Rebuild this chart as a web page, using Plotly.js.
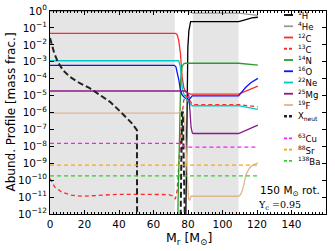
<!DOCTYPE html>
<html><head><meta charset="utf-8">
<script src="https://cdn.plot.ly/plotly-3.0.1.min.js"></script>
<style>html,body{margin:0;padding:0;background:#fff}#c{width:335px;height:251px}</style>
</head><body><div id="c"></div>
<script>
// ---------------- data (mass coordinate in Msun, log10 mass fraction) ----------------
const m_H1   = [0, 78.5, 79, 79.5, 79.9, 80.5, 81, 81.5, 82.5, 109.3, 111, 113, 115, 117, 120.5];
const lg_H1  = [-14, -14, -10, -5, -2.18, -1.18, -0.77, -0.63, -0.63, -0.63, -0.58, -0.52, -0.46, -0.41, -0.37];
const m_He4  = [0, 80, 81, 82, 83, 109.3, 120.5];
const lg_He4 = [-0.009, -0.009, -0.06, -0.12, -0.13, -0.13, -0.26];
const m_C12  = [0, 72.7, 73.7, 74.6, 75.6, 76.6, 77.5, 78.5, 80, 81.5, 109.3, 112, 115, 118, 120.5];
const lg_C12 = [-1.32, -1.32, -1.4, -1.72, -2.5, -3.89, -4.5, -4.78, -4.85, -4.91, -4.91, -4.8, -4.65, -4.52, -4.44];
const m_C13  = [0, 2.7, 6.6, 12.5, 19, 29, 38.7, 50, 68.7, 70.8, 72.7, 73.7, 74.6, 75.6, 76.6, 77.5, 78.5, 80, 81.5, 82.5, 109.3, 120.5];
const lg_C13 = [-9.9, -10.4, -10.69, -10.89, -10.95, -10.89, -10.84, -10.84, -10.85, -10.92, -11.12, -10.6, -9, -7.5, -6.2, -5.3, -5.0, -5.1, -5.4, -5.53, -5.53, -5.66];
const m_N14  = [0, 73.8, 74.3, 74.8, 75.3, 75.8, 76.5, 77.5, 78.5, 109.3, 120.5];
const lg_N14 = [-14, -14, -11, -8, -5.5, -4, -3.3, -3.12, -3.09, -3.09, -3.2];
const m_O16  = [0, 72, 73, 73.7, 74.7, 75.6, 76.5, 77.5, 79, 80.5, 81.5, 82.4, 109.3, 111, 113.5, 116.4, 118.5, 120.5];
const lg_O16 = [-3.21, -3.21, -3.3, -3.59, -4.08, -4.67, -4.95, -5.07, -5.2, -5.27, -5.12, -5.02, -5.02, -4.8, -4.51, -4.24, -4.1, -3.98];
const m_Ne22  = [0, 74.6, 75.6, 76.6, 77.5, 78.5, 80, 82.4, 109.3, 120.5];
const lg_Ne22 = [-2.94, -2.94, -3.3, -4.48, -4.9, -5.07, -5.35, -5.6, -5.6, -5.82];
const m_Mg25  = [0, 78.5, 79.5, 80.5, 81.2, 81.8, 82.5, 83, 109.3, 120.5];
const lg_Mg25 = [-4.73, -4.73, -4.8, -5.0, -6, -6.9, -7.2, -7.24, -7.24, -6.75];
const m_F19  = [0, 74, 75.5, 77, 78, 78.8, 79.5, 80.3, 81, 81.7, 82.5, 109.3, 110.5, 111.5, 112.5, 113.5, 115.5, 117.5, 120.5];
const lg_F19 = [-6.04, -6.04, -5.95, -5.9, -6.3, -8, -10, -11.1, -11.2, -10.95, -10.95, -10.95, -10.85, -10.6, -10.2, -9.7, -9.31, -9.1, -8.98];
const m_Xn  = [0, 1, 2.5, 4.5, 7.5, 11.5, 17, 23, 27, 31, 34.8, 38.7, 43, 47.5, 50.4, 50.5, 75.5, 76, 76.5, 77, 77.5, 78, 78.5, 120.5];
const lg_Xn = [-1.6, -2.0, -2.5, -3.0, -3.5, -3.89, -4.25, -4.56, -4.83, -5.1, -5.37, -5.74, -6.2, -6.64, -7.04, -14, -14, -9, -6, -6, -9, -12, -14, -14];
const m_Cu63  = [0, 76, 78, 120.5];
const lg_Cu63 = [-7.83, -7.83, -8.05, -8.05];
const m_Sr88  = [0, 120.5];
const lg_Sr88 = [-9.11, -9.11];
const m_Ba138  = [0, 120.5];
const lg_Ba138 = [-9.75, -9.75];
// convective zones (Msun)
const convZones = [[0, 72.3], [82.8, 109.3]];
// tick labels
const yTickExp = [0, -1, -2, -3, -4, -5, -6, -7, -8, -9, -10, -11, -12];
const yTickText = yTickExp.map(e => '10<sup>' + (e < 0 ? '\u2212' + (-e) : e) + '</sup>');
const xTickVals = [0, 20, 40, 60, 80, 100, 120, 140, 160];

// ---------------- styles ----------------
const species = [
  {name: '<sup>1</sup>H',    m: m_H1,   lg: lg_H1,   color: '#000000', dash: 'solid', w: 1.3, leg: 0},
  {name: '<sup>4</sup>He',   m: m_He4,  lg: lg_He4,  color: '#999999', dash: 'solid', w: 1.3, leg: 0},
  {name: '<sup>12</sup>C',   m: m_C12,  lg: lg_C12,  color: '#ff2a2a', dash: 'solid', w: 1.3, leg: 0},
  {name: '<sup>13</sup>C',   m: m_C13,  lg: lg_C13,  color: '#ff2a2a', dash: '4px,3px', w: 1.3, leg: 0},
  {name: '<sup>14</sup>N',   m: m_N14,  lg: lg_N14,  color: '#2e9a2e', dash: 'solid', w: 1.3, leg: 0},
  {name: '<sup>16</sup>O',   m: m_O16,  lg: lg_O16,  color: '#1010ff', dash: 'solid', w: 1.3, leg: 0},
  {name: '<sup>22</sup>Ne',  m: m_Ne22, lg: lg_Ne22, color: '#00c8c8', dash: 'solid', w: 1.3, leg: 0},
  {name: '<sup>25</sup>Mg',  m: m_Mg25, lg: lg_Mg25, color: '#8a1a8a', dash: 'solid', w: 1.3, leg: 0},
  {name: '<sup>19</sup>F',   m: m_F19,  lg: lg_F19,  color: '#dcb890', dash: 'solid', w: 1.3, leg: 0},
  {name: 'X<sub>neut</sub>', m: m_Xn,   lg: lg_Xn,   color: '#222222', dash: '6px,3px', w: 2.0, leg: 0},
  {name: '<sup>63</sup>Cu',  m: m_Cu63, lg: lg_Cu63, color: '#ff1aff', dash: '4px,3px', w: 1.3, leg: 1},
  {name: '<sup>88</sup>Sr',  m: m_Sr88, lg: lg_Sr88, color: '#ffa500', dash: '4px,3px', w: 1.3, leg: 1},
  {name: '<sup>138</sup>Ba', m: m_Ba138,lg: lg_Ba138,color: '#33cc33', dash: '4px,3px', w: 1.3, leg: 1}
];

const W = 335, H = 251;
const L = 50, R = 326, T = 11, B = 214;
const px2x = p => (p - L) / (R - L);
const px2y = p => 1 - (p - T) / (B - T);

const traces = species.map(s => ({
  type: 'scatter', mode: 'lines', x: s.m, y: s.lg.map(v => Math.pow(10, v)),
  line: {color: s.color, width: s.w, dash: s.dash}, showlegend: false, hoverinfo: 'skip'
}));

const shapes = convZones.map(z => ({
  type: 'rect', xref: 'x', yref: 'paper', x0: z[0], x1: z[1], y0: 0, y1: 1,
  fillcolor: '#e5e5e5', line: {width: 0}, layer: 'below'
}));
const annotations = [];
// two legend boxes (main isotopes, then s-process isotopes)
const legTop = [15, 138.3], legStep = 11.25;
const legCount = [0, 0];
species.forEach(s => {
  const py = legTop[s.leg] + (legCount[s.leg]++) * legStep;
  shapes.push({type: 'line', xref: 'paper', yref: 'paper', x0: px2x(284), x1: px2x(293),
    y0: px2y(py), y1: px2y(py), line: {color: s.color, width: s.w + 0.5, dash: s.dash === 'solid' ? 'solid' : '3px,2px'}});
  annotations.push({xref: 'paper', yref: 'paper', x: px2x(296), y: px2y(py), xanchor: 'left', yanchor: 'middle',
    text: s.name, showarrow: false, font: {family: 'DejaVu Sans', size: 8.5, color: '#000000'}});
});
annotations.push({xref: 'paper', yref: 'paper', x: px2x(289.5), y: px2y(191), xanchor: 'center', yanchor: 'middle',
  text: '150 M<sub>\u2299</sub> rot.', showarrow: false, font: {family: 'DejaVu Sans', size: 10.5, color: '#000000'}});
annotations.push({xref: 'paper', yref: 'paper', x: px2x(279), y: px2y(205), xanchor: 'center', yanchor: 'middle',
  text: 'Y<sub>c</sub> =0.95', showarrow: false, font: {family: 'DejaVu Serif', size: 9.5, color: '#000000'}});
// axis titles
annotations.push({xref: 'paper', yref: 'paper', x: px2x(189), y: px2y(238), xanchor: 'center', yanchor: 'middle',
  text: 'M<sub>r</sub> [M<sub>\u2299</sub>]', showarrow: false, font: {family: 'DejaVu Sans', size: 12.5, color: '#000000'}});
annotations.push({xref: 'paper', yref: 'paper', x: px2x(10), y: px2y(112.5), xanchor: 'center', yanchor: 'middle',
  text: 'Abund. Profile [mass frac.]', textangle: -90, showarrow: false, font: {family: 'DejaVu Sans', size: 12, color: '#000000'}});

const layout = {
  width: W, height: H, margin: {l: L, r: W - R, t: T, b: H - B},
  paper_bgcolor: '#fff', plot_bgcolor: '#fff', showlegend: false,
  font: {family: 'DejaVu Sans', color: '#000000'},
  xaxis: {range: [0, 160], tickvals: xTickVals, ticks: 'inside', ticklen: 4, tickcolor: '#000',
    showline: true, linecolor: '#000', linewidth: 1, mirror: 'allticks', showgrid: false, zeroline: false,
    tickfont: {size: 10.5}, minor: {dtick: 2, ticks: 'inside', ticklen: 2, tickcolor: '#000', showgrid: false}},
  yaxis: {type: 'log', range: [-12, 0], tickvals: yTickExp.map(e => Math.pow(10, e)), ticktext: yTickText,
    ticks: 'inside', ticklen: 4, tickcolor: '#000', showline: true, linecolor: '#000', linewidth: 1,
    mirror: 'allticks', showgrid: false, zeroline: false, tickfont: {size: 10.5}},
  shapes: shapes, annotations: annotations
};
Plotly.newPlot('c', traces, layout, {staticPlot: true, displayModeBar: false});
</script></body></html>
